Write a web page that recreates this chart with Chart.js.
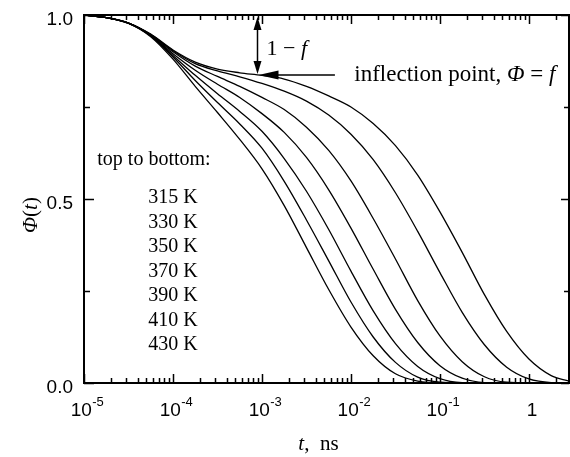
<!DOCTYPE html>
<html>
<head>
<meta charset="utf-8">
<script src="https://cdn.jsdelivr.net/npm/chart.js@4.4.0/dist/chart.umd.min.js"></script>
<style>
  html, body { margin: 0; padding: 0; background: #fff; }
  #wrap { width: 570px; height: 457px; }
</style>
</head>
<body>
<div id="wrap"><canvas id="c" width="570" height="457"></canvas></div>
<script>
// Sampling times, as log10(t / ns)
const logTime = [-5, -4.75, -4.5, -4.25, -4, -3.75, -3.5, -3.25, -3, -2.75, -2.5, -2.25,
                 -2, -1.75, -1.5, -1.25, -1, -0.75, -0.5, -0.25, 0, 0.25, 0.45];

// Correlation function Phi(t) for each temperature
const phi315 = [1.000, 0.993, 0.978, 0.948, 0.905, 0.872, 0.853, 0.843, 0.836, 0.826, 0.806, 0.780,
                0.750, 0.705, 0.645, 0.565, 0.465, 0.355, 0.240, 0.140, 0.065, 0.020, 0.005];
const phi330 = [1.000, 0.993, 0.978, 0.947, 0.903, 0.868, 0.848, 0.832, 0.814, 0.793, 0.766, 0.728,
                0.676, 0.607, 0.517, 0.412, 0.300, 0.192, 0.104, 0.043, 0.011, 0.001, 0.000];
const phi350 = [1.000, 0.993, 0.978, 0.946, 0.900, 0.861, 0.833, 0.806, 0.776, 0.743, 0.695, 0.632,
                0.549, 0.447, 0.337, 0.224, 0.128, 0.058, 0.017, 0.002, 0.000, 0.000, 0.000];
const phi370 = [1.000, 0.993, 0.978, 0.945, 0.895, 0.850, 0.812, 0.776, 0.732, 0.681, 0.613, 0.525,
                0.421, 0.309, 0.200, 0.110, 0.047, 0.013, 0.001, 0.000, 0.000, 0.000, 0.000];
const phi390 = [1.000, 0.993, 0.978, 0.944, 0.890, 0.836, 0.786, 0.738, 0.684, 0.610, 0.521, 0.417,
                0.304, 0.196, 0.107, 0.045, 0.012, 0.001, 0.000, 0.000, 0.000, 0.000, 0.000];
const phi410 = [1.000, 0.993, 0.978, 0.943, 0.886, 0.822, 0.762, 0.704, 0.638, 0.548, 0.443, 0.332,
                0.220, 0.125, 0.056, 0.016, 0.002, 0.000, 0.000, 0.000, 0.000, 0.000, 0.000];
const phi430 = [1.000, 0.993, 0.977, 0.941, 0.880, 0.806, 0.735, 0.662, 0.582, 0.482, 0.368, 0.254,
                0.152, 0.074, 0.025, 0.005, 0.000, 0.000, 0.000, 0.000, 0.000, 0.000, 0.000];

const temperatures = ['315 K', '330 K', '350 K', '370 K', '390 K', '410 K', '430 K'];
const seriesValues = [phi315, phi330, phi350, phi370, phi390, phi410, phi430];

// Axes
const xRange = [1e-5, 2.82];
const xMajorTicks = [1e-5, 1e-4, 1e-3, 1e-2, 1e-1, 1];
const yRange = [0, 1];
const yMajorTicks = [0, 0.5, 1];
const yMinorTicks = [0.25, 0.75];

// Inflection point of the top curve: plateau height f
const inflection = { t: 8.7e-4, phi: 0.837 };
const arrowTailT = 6.6e-3;

const SANS = "'Liberation Sans', Arial, sans-serif";
const SERIF = "'Liberation Serif', 'Times New Roman', serif";

function drawRuns(ctx, runs, x, y, size, align) {
  const widths = runs.map(r => {
    ctx.font = (r.it ? 'italic ' : '') + size + 'px ' + SERIF;
    return ctx.measureText(r.text).width;
  });
  const total = widths.reduce((a, b) => a + b, 0);
  let cx = align === 'center' ? x - total / 2 : x;
  ctx.textAlign = 'left';
  ctx.textBaseline = 'alphabetic';
  runs.forEach((r, i) => {
    ctx.font = (r.it ? 'italic ' : '') + size + 'px ' + SERIF;
    ctx.fillText(r.text, cx, y);
    cx += widths[i];
  });
}

const decorations = {
  id: 'decorations',
  afterDraw(chart) {
    const { ctx, chartArea: a, scales } = chart;
    const xs = scales.x, ys = scales.y;
    ctx.save();
    ctx.strokeStyle = '#000';
    ctx.fillStyle = '#000';

    // frame
    ctx.lineWidth = 2;
    ctx.strokeRect(a.left, a.top, a.right - a.left, a.bottom - a.top);

    // x ticks (inward, bottom and top)
    ctx.lineWidth = 1.5;
    ctx.beginPath();
    xMajorTicks.forEach(v => {
      const p = Math.round(xs.getPixelForValue(v)) + 0.5;
      ctx.moveTo(p, a.bottom); ctx.lineTo(p, a.bottom - 9);
      ctx.moveTo(p, a.top); ctx.lineTo(p, a.top + 9);
      for (let m = 2; m <= 9; m++) {
        const mv = v * m;
        if (mv >= xRange[1]) break;
        const q = Math.round(xs.getPixelForValue(mv)) + 0.5;
        ctx.moveTo(q, a.bottom); ctx.lineTo(q, a.bottom - 5);
        ctx.moveTo(q, a.top); ctx.lineTo(q, a.top + 5);
      }
    });
    // y ticks (inward, left and right)
    yMajorTicks.forEach(v => {
      const p = Math.round(ys.getPixelForValue(v)) + 0.5;
      ctx.moveTo(a.left, p); ctx.lineTo(a.left + 10, p);
      ctx.moveTo(a.right, p); ctx.lineTo(a.right - 8, p);
    });
    yMinorTicks.forEach(v => {
      const p = Math.round(ys.getPixelForValue(v)) + 0.5;
      ctx.moveTo(a.left, p); ctx.lineTo(a.left + 6, p);
      ctx.moveTo(a.right, p); ctx.lineTo(a.right - 5, p);
    });
    ctx.stroke();

    // y tick labels
    ctx.font = '19px ' + SANS;
    ctx.textAlign = 'right';
    ctx.textBaseline = 'alphabetic';
    yMajorTicks.forEach(v => {
      ctx.fillText(v.toFixed(1), a.left - 11, ys.getPixelForValue(v) + 10);
    });

    // x tick labels: powers of ten with raised exponents
    ctx.textAlign = 'left';
    xMajorTicks.forEach(v => {
      const p = xs.getPixelForValue(v);
      const e = Math.round(Math.log10(v));
      if (e === 0) {
        ctx.font = '19px ' + SANS;
        const w = ctx.measureText('1').width;
        ctx.fillText('1', p + 3 - w / 2, 416);
        return;
      }
      ctx.font = '19px ' + SANS;
      const wb = ctx.measureText('10').width;
      ctx.font = '13px ' + SANS;
      const we = ctx.measureText(String(e)).width;
      const x0 = p + 3 - (wb + we) / 2;
      ctx.font = '19px ' + SANS;
      ctx.fillText('10', x0, 416);
      ctx.font = '13px ' + SANS;
      ctx.fillText(String(e), x0 + wb + 0.5, 406);
    });

    // axis titles
    drawRuns(ctx, [{ text: 't', it: true }, { text: ',  ns' }], (a.left + a.right) / 2 - 8, 450, 21, 'center');
    ctx.save();
    ctx.translate(37, (a.top + a.bottom) / 2 + 16);
    ctx.rotate(-Math.PI / 2);
    drawRuns(ctx, [{ text: 'Φ', it: true }, { text: '(' }, { text: 't', it: true }, { text: ')' }], 0, 0, 21, 'center');
    ctx.restore();

    // plateau annotation: 1 - f arrow and inflection point arrow
    const ix = Math.round(xs.getPixelForValue(inflection.t)) + 0.5;
    const iy = ys.getPixelForValue(inflection.phi);
    const topY = ys.getPixelForValue(1);
    ctx.lineWidth = 1.5;
    ctx.beginPath();
    ctx.moveTo(ix, topY + 12); ctx.lineTo(ix, iy - 10);
    ctx.stroke();
    ctx.beginPath();
    ctx.moveTo(ix, topY + 2); ctx.lineTo(ix - 4, topY + 15); ctx.lineTo(ix + 4, topY + 15); ctx.closePath();
    ctx.fill();
    ctx.beginPath();
    ctx.moveTo(ix, iy - 1); ctx.lineTo(ix - 4, iy - 14); ctx.lineTo(ix + 4, iy - 14); ctx.closePath();
    ctx.fill();

    const tailX = xs.getPixelForValue(arrowTailT);
    ctx.beginPath();
    ctx.moveTo(tailX, iy); ctx.lineTo(ix + 16, iy);
    ctx.stroke();
    ctx.beginPath();
    ctx.moveTo(ix + 1, iy); ctx.lineTo(ix + 21, iy - 4.5); ctx.lineTo(ix + 21, iy + 4.5); ctx.closePath();
    ctx.fill();

    drawRuns(ctx, [{ text: '1 − ' }, { text: 'f', it: true }], ix + 9, ys.getPixelForValue(0.891), 22, 'left');
    drawRuns(ctx, [{ text: 'inflection point, ' }, { text: 'Φ', it: true }, { text: ' = ' }, { text: 'f', it: true }],
             xs.getPixelForValue(0.0109), ys.getPixelForValue(0.82), 23, 'left');

    // temperature key
    drawRuns(ctx, [{ text: 'top to bottom:' }], xs.getPixelForValue(1.41e-5), ys.getPixelForValue(0.592), 20, 'left');
    temperatures.forEach((t, i) => {
      drawRuns(ctx, [{ text: t }], xs.getPixelForValue(5.27e-5), ys.getPixelForValue(0.489 - i * 0.0666), 20, 'left');
    });

    ctx.restore();
  }
};

const datasets = seriesValues.map((vals, k) => ({
  label: temperatures[k],
  data: logTime.map((L, i) => ({ x: Math.pow(10, L), y: vals[i] })),
  borderColor: '#000',
  borderWidth: 1.3,
  pointRadius: 0,
  fill: false,
  cubicInterpolationMode: 'monotone'
}));

new Chart(document.getElementById('c').getContext('2d'), {
  type: 'line',
  data: { datasets },
  options: {
    responsive: false,
    animation: false,
    devicePixelRatio: 1,
    layout: { padding: { top: 15, right: 1, left: 0, bottom: 0 } },
    plugins: { legend: { display: false }, tooltip: { enabled: false } },
    scales: {
      x: {
        type: 'logarithmic', min: xRange[0], max: xRange[1],
        grid: { display: false, drawTicks: false },
        border: { display: false },
        ticks: { display: false },
        afterFit(s) { s.height = 74; }
      },
      y: {
        type: 'linear', min: yRange[0], max: yRange[1],
        grid: { display: false, drawTicks: false },
        border: { display: false },
        ticks: { display: false },
        afterFit(s) { s.width = 84; }
      }
    }
  },
  plugins: [decorations]
});
</script>
</body>
</html>
